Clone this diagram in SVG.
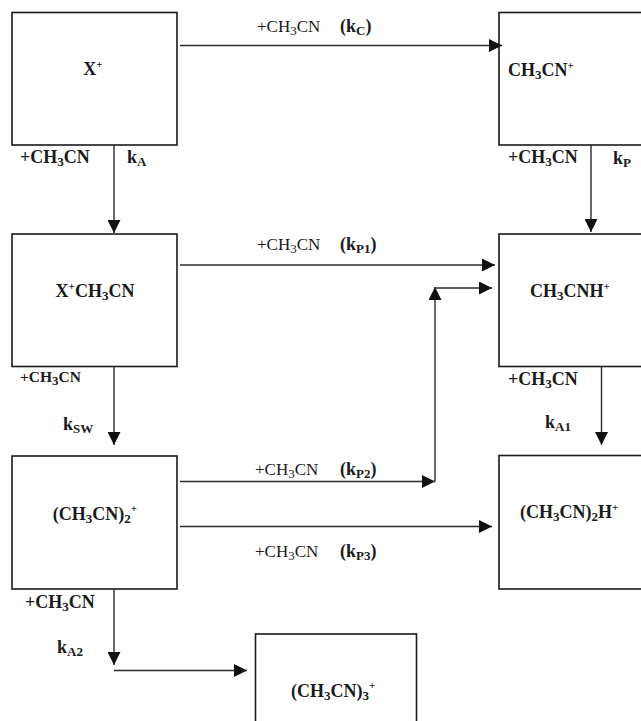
<svg xmlns="http://www.w3.org/2000/svg" width="641" height="721" viewBox="0 0 641 721">
  <style>
    text { font-family: "Liberation Serif", "Times New Roman", serif; fill: #1a1a1a; }
    .node rect { fill: #ffffff; stroke: #1a1a1a; stroke-width: 1.6; }
    .nl { font-size: 18px; font-weight: bold; }
    .rl { font-size: 17px; font-weight: normal; }
    .bl { font-size: 18px; font-weight: bold; }
    .sl { font-size: 15.5px; font-weight: bold; }
    .sub { font-size: 13px; }
    .sup { font-size: 11px; }
    .conn path { fill: none; stroke: #2a2a2a; stroke-width: 1.4; }
  </style>
  <defs>
    <marker id="arrow" markerUnits="userSpaceOnUse" markerWidth="13" markerHeight="13" refX="13" refY="6.5" orient="auto">
      <path d="M0,0 L13,6.5 L0,13 z" fill="#111111"/>
    </marker>
  </defs>
  <rect width="641" height="721" fill="#ffffff"/>

  <!-- species boxes -->
  <g id="node-x" class="node">
    <rect x="12" y="12.5" width="165" height="132.5"/>
    <text class="nl" x="93" y="75" text-anchor="middle">X<tspan class="sup" dy="-7">+</tspan></text>
  </g>
  <g id="node-ch3cn-ion" class="node">
    <rect x="499" y="12.5" width="150" height="132.5"/>
    <text class="nl" x="508" y="76">CH<tspan class="sub" dy="3">3</tspan><tspan dy="-3">CN</tspan><tspan class="sup" dy="-7">+</tspan></text>
  </g>
  <g id="node-x-ch3cn" class="node">
    <rect x="12" y="234" width="165" height="132.5"/>
    <text class="nl" x="95" y="297" text-anchor="middle">X<tspan class="sup" dy="-7">+</tspan><tspan dy="7">CH</tspan><tspan class="sub" dy="3">3</tspan><tspan dy="-3">CN</tspan></text>
  </g>
  <g id="node-ch3cnh" class="node">
    <rect x="499" y="234" width="150" height="132.5"/>
    <text class="nl" x="530" y="297">CH<tspan class="sub" dy="3">3</tspan><tspan dy="-3">CNH</tspan><tspan class="sup" dy="-7">+</tspan></text>
  </g>
  <g id="node-dimer" class="node">
    <rect x="12" y="456" width="165" height="133"/>
    <text class="nl" x="95" y="520" text-anchor="middle">(CH<tspan class="sub" dy="3">3</tspan><tspan dy="-3">CN)</tspan><tspan class="sub" dy="3">2</tspan><tspan class="sup" dy="-11">+</tspan></text>
  </g>
  <g id="node-protonated-dimer" class="node">
    <rect x="499" y="455.5" width="150" height="133.5"/>
    <text class="nl" x="520" y="518">(CH<tspan class="sub" dy="3">3</tspan><tspan dy="-3">CN)</tspan><tspan class="sub" dy="3">2</tspan><tspan dy="-3">H</tspan><tspan class="sup" dy="-7">+</tspan></text>
  </g>
  <g id="node-trimer" class="node">
    <rect x="255.5" y="634" width="161" height="100"/>
    <text class="nl" x="291" y="697">(CH<tspan class="sub" dy="3">3</tspan><tspan dy="-3">CN)</tspan><tspan class="sub" dy="3">3</tspan><tspan class="sup" dy="-11">+</tspan></text>
  </g>

  <!-- reaction arrows -->
  <g id="connectors" class="conn">
    <path d="M180,45.5 H502" marker-end="url(#arrow)"/>
    <path d="M114,145 V233" marker-end="url(#arrow)"/>
    <path d="M591,145 V232" marker-end="url(#arrow)"/>
    <path d="M180,265 H495" marker-end="url(#arrow)"/>
    <path d="M114,366.5 V445" marker-end="url(#arrow)"/>
    <path d="M601.5,366.5 V445" marker-end="url(#arrow)"/>
    <path d="M180,481.5 H435" marker-end="url(#arrow)"/>
    <path d="M435,481.5 V287" marker-end="url(#arrow)"/>
    <path d="M435,288 H492" marker-end="url(#arrow)"/>
    <path d="M180,526.5 H492" marker-end="url(#arrow)"/>
    <path d="M114,589 V665" marker-end="url(#arrow)"/>
    <path d="M114,670.5 H247" marker-end="url(#arrow)"/>
  </g>

  <!-- rate labels -->
  <g id="labels">
    <text class="rl" x="257" y="32">+CH<tspan class="sub" dy="3">3</tspan><tspan dy="-3">CN</tspan></text>
    <text class="bl" x="340" y="32">(k<tspan class="sub" dy="3">C</tspan><tspan dy="-3">)</tspan></text>

    <text class="bl" x="20" y="163">+CH<tspan class="sub" dy="3">3</tspan><tspan dy="-3">CN</tspan></text>
    <text class="bl" x="127" y="163">k<tspan class="sub" dy="3">A</tspan></text>

    <text class="bl" x="508" y="163">+CH<tspan class="sub" dy="3">3</tspan><tspan dy="-3">CN</tspan></text>
    <text class="bl" x="613" y="164">k<tspan class="sub" dy="3">P</tspan></text>

    <text class="rl" x="257" y="250">+CH<tspan class="sub" dy="3">3</tspan><tspan dy="-3">CN</tspan></text>
    <text class="bl" x="340" y="250">(k<tspan class="sub" dy="3">P1</tspan><tspan dy="-3">)</tspan></text>

    <text class="sl" x="20" y="382">+CH<tspan class="sub" dy="3">3</tspan><tspan dy="-3">CN</tspan></text>
    <text class="bl" x="63" y="430">k<tspan class="sub" dy="3">SW</tspan></text>

    <text class="bl" x="508" y="385">+CH<tspan class="sub" dy="3">3</tspan><tspan dy="-3">CN</tspan></text>
    <text class="bl" x="545" y="428">k<tspan class="sub" dy="3">A1</tspan></text>

    <text class="rl" x="255" y="475">+CH<tspan class="sub" dy="3">3</tspan><tspan dy="-3">CN</tspan></text>
    <text class="bl" x="340" y="475">(k<tspan class="sub" dy="3">P2</tspan><tspan dy="-3">)</tspan></text>

    <text class="rl" x="255" y="557">+CH<tspan class="sub" dy="3">3</tspan><tspan dy="-3">CN</tspan></text>
    <text class="bl" x="340" y="557">(k<tspan class="sub" dy="3">P3</tspan><tspan dy="-3">)</tspan></text>

    <text class="bl" x="25" y="608">+CH<tspan class="sub" dy="3">3</tspan><tspan dy="-3">CN</tspan></text>
    <text class="bl" x="57" y="653">k<tspan class="sub" dy="3">A2</tspan></text>
  </g>
</svg>
